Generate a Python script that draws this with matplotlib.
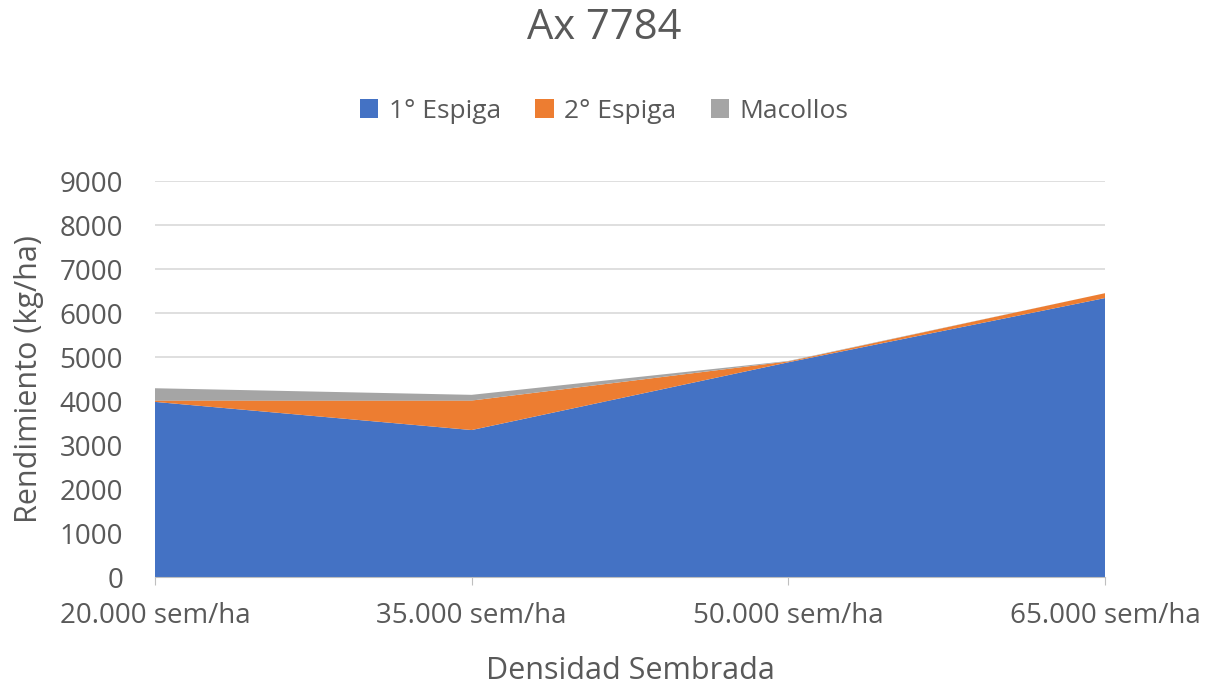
import matplotlib
matplotlib.use('Agg')
import matplotlib.pyplot as plt

plt.rcParams['font.family'] = ['Open Sans', 'DejaVu Sans']

densidades = ['20.000 sem/ha', '35.000 sem/ha', '50.000 sem/ha', '65.000 sem/ha']
espiga1 = [3980, 3340, 4880, 6340]
espiga2 = [30, 670, 20, 110]
macollos = [280, 130, 10, 0]

colores = ['#4472C4', '#ED7D31', '#A5A5A5']
txt = '#595959'

fig = plt.figure(figsize=(12.08, 6.88), dpi=100)
ax = fig.add_axes([155 / 1208, 1 - 577 / 688, 950 / 1208, 396 / 688])

x = list(range(len(densidades)))
ax.stackplot(x, espiga1, espiga2, macollos, colors=colores,
             labels=['1° Espiga', '2° Espiga', 'Macollos'], zorder=2)

ax.set_xlim(0, 3)
ax.set_ylim(0, 9000)
ax.set_yticks(range(0, 9001, 1000))
ax.set_xticks(x)
ax.set_xticklabels(densidades)
ax.grid(axis='y', color='#D9D9D9', linewidth=1.2, zorder=0)
for s in ['top', 'right', 'left']:
    ax.spines[s].set_visible(False)
ax.spines['bottom'].set_color('#BFBFBF')
ax.tick_params(axis='y', length=0, labelsize=20, colors=txt, pad=23)
ax.tick_params(axis='x', length=6, color='#BFBFBF', labelsize=20, colors=txt, pad=12)

ax.set_ylabel('Rendimiento (kg/ha)', fontsize=22, color=txt)
ax.yaxis.set_label_coords(-0.117, 0.5)
ax.set_xlabel('Densidad Sembrada', fontsize=22, color=txt)
ax.xaxis.set_label_coords(0.5, -0.2)

fig.text(0.5, 1 - 28 / 688, 'Ax 7784', ha='center', va='center', fontsize=30, color=txt)
fig.legend(loc='center', bbox_to_anchor=(0.5, 1 - 111 / 688), ncol=3, frameon=False,
           fontsize=19, labelcolor=txt, handlelength=0.7, handleheight=0.7,
           columnspacing=1.3, handletextpad=0.4)

fig.savefig('out.png', dpi=100)
